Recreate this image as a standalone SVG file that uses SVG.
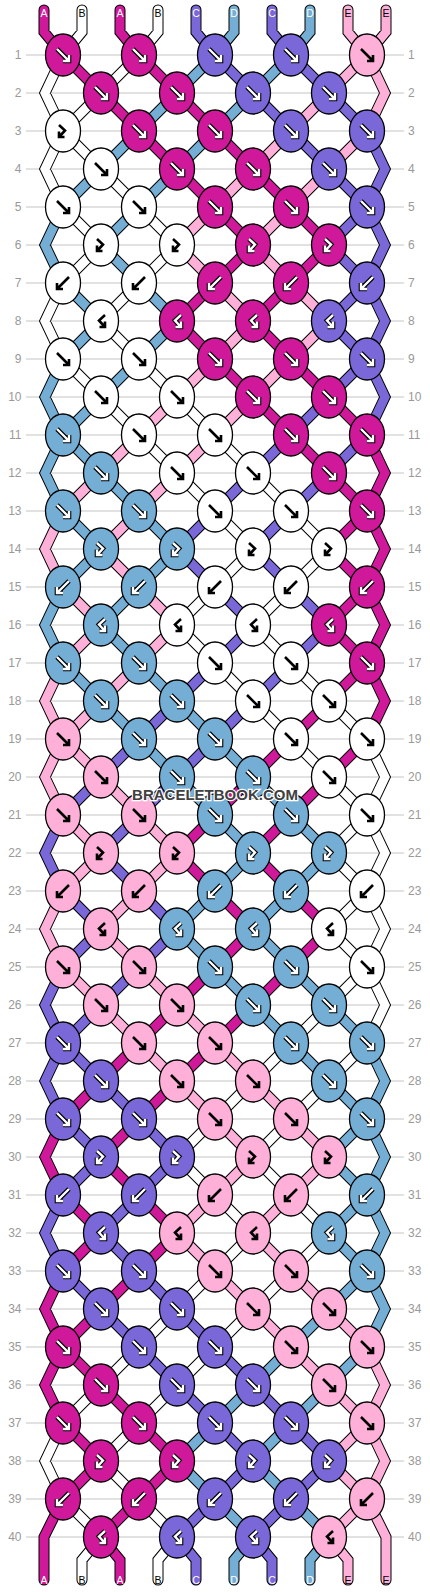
<svg xmlns="http://www.w3.org/2000/svg" xmlns:xlink="http://www.w3.org/1999/xlink" width="430" height="1592" viewBox="0 0 430 1592">
<style>
.grid{fill:none;stroke:#c4c4c4;stroke-width:1}
.ol{fill:none;stroke:#000;stroke-width:11;stroke-linecap:round;stroke-linejoin:miter}
.cM,.cW,.cP,.cL,.cK{fill:none;stroke-width:9;stroke-linecap:round;stroke-linejoin:miter}
.cM{stroke:#d0189a}.cW{stroke:#fff}.cP{stroke:#7a68d8}.cL{stroke:#74aed4}.cK{stroke:#ffb0d8}
.M{fill:#d0189a}.W{fill:#fff}.P{fill:#7a68d8}.L{fill:#74aed4}.K{fill:#ffb0d8}
.ao{fill:none;stroke:#000;stroke-width:4.6;stroke-linejoin:miter}
.aw{fill:none;stroke:#fff;stroke-width:2.4;stroke-linejoin:miter}
.ab{fill:none;stroke:#000;stroke-width:2.6;stroke-linejoin:miter}
.rn{font-family:"Liberation Sans",Arial,sans-serif;font-size:12px;fill:#999}
.sl{font-family:"Liberation Sans",Arial,sans-serif;font-size:10.5px;text-anchor:middle}
.wm{font-family:"Liberation Sans",Arial,sans-serif;font-size:15px;font-weight:bold;fill:#404040;stroke:#fff;stroke-width:2.5;paint-order:stroke;text-anchor:middle}
</style>
<defs>
<ellipse id="e" rx="17.5" ry="21" stroke="#000" stroke-width="1.3"/>
<path id="af" d="M-6,-6L5.5,5.5M0,6H6V0"/>
<path id="ab" d="M6,-6L-5.5,5.5M0,6H-6V0"/>
<path id="ag" d="M-4,-6L2,-0.5L-3.5,5.5M-4,0.5V6H1.5"/>
<path id="ah" d="M4,-6L-2,-0.5L3.5,5.5M4,0.5V6H-1.5"/>
<g id="fD"><use href="#af" class="ao"/><use href="#af" class="aw"/></g>
<g id="bD"><use href="#ab" class="ao"/><use href="#ab" class="aw"/></g>
<g id="gD"><use href="#ag" class="ao"/><use href="#ag" class="aw"/></g>
<g id="hD"><use href="#ah" class="ao"/><use href="#ah" class="aw"/></g>
<use id="fL" href="#af" class="ab"/>
<use id="bL" href="#ab" class="ab"/>
<use id="gL" href="#ag" class="ab"/>
<use id="hL" href="#ah" class="ab"/>
<path id="pM" d="M44,10V32L63,55M120,10V32L139,55M63,55l38,38M139,55l38,38M101,93l38,38M177,93l38,38M139,131l38,38M215,131l38,38M177,169l38,38M253,169l38,38M215,207l38,38M291,207l38,38M253,245l-38,38M329,245l-38,38M215,283l-38,38M291,283l-38,38M177,321l38,38M253,321l38,38M215,359l38,38M291,359l38,38M253,397l38,38M329,397l38,38M291,435l38,38M367,435l18,38l-18,38M329,473l38,38M367,511l-38,38M367,511l18,38l-18,38M329,549l38,38M367,587l-38,38M367,587l18,38l-18,38M329,625l38,38M367,663l-38,38M367,663l18,38l-18,38M329,701l-38,38M291,739l-38,38M367,739l-38,38M253,777l-38,38M329,777l-38,38M215,815l-38,38M291,815l-38,38M177,853l38,38M253,853l38,38M215,891l38,38M291,891l38,38M253,929l-38,38M329,929l-38,38M215,967l-38,38M291,967l-38,38M177,1005l-38,38M253,1005l-38,38M139,1043l-38,38M215,1043l-38,38M101,1081l-38,38M177,1081l-38,38M63,1119l-18,38l18,38M139,1119l-38,38M101,1157l38,38M63,1195l38,38M139,1195l38,38M101,1233l-38,38M177,1233l-38,38M63,1271l-18,38l18,38M139,1271l-38,38M101,1309l-38,38M63,1347l-18,38l18,38M63,1347l38,38M101,1385l38,38M63,1423l38,38M139,1423l38,38M101,1461l-38,38M177,1461l-38,38M63,1499L44,1537V1580M139,1499l-38,38M101,1537L120,1560V1580"/>
<path id="pW" d="M82,10V32L63,55M158,10V32L139,55M63,55l-18,38l18,38M139,55l-38,38M101,93l-38,38M63,131l-18,38l18,38M63,131l38,38M101,169l38,38M63,207l38,38M139,207l38,38M101,245l-38,38M177,245l-38,38M63,283l-18,38l18,38M139,283l-38,38M101,321l38,38M63,359l38,38M139,359l38,38M101,397l38,38M177,397l38,38M139,435l38,38M215,435l38,38M177,473l38,38M253,473l38,38M215,511l38,38M291,511l38,38M253,549l-38,38M329,549l-38,38M215,587l-38,38M291,587l-38,38M177,625l38,38M253,625l38,38M215,663l38,38M291,663l38,38M253,701l38,38M329,701l38,38M291,739l38,38M367,739l18,38l-18,38M329,777l38,38M367,815l-38,38M367,815l18,38l-18,38M329,853l38,38M367,891l-38,38M367,891l18,38l-18,38M329,929l38,38M367,967l-38,38M367,967l18,38l-18,38M329,1005l-38,38M291,1043l-38,38M367,1043l-38,38M253,1081l-38,38M329,1081l-38,38M215,1119l-38,38M291,1119l-38,38M177,1157l38,38M253,1157l38,38M215,1195l38,38M291,1195l38,38M253,1233l-38,38M329,1233l-38,38M215,1271l-38,38M291,1271l-38,38M177,1309l-38,38M253,1309l-38,38M139,1347l-38,38M215,1347l-38,38M101,1385l-38,38M177,1385l-38,38M63,1423l-18,38l18,38M139,1423l-38,38M101,1461l38,38M63,1499l38,38M139,1499l38,38M101,1537L82,1560V1580M177,1537L158,1560V1580"/>
<path id="pP" d="M196,10V32L215,55M272,10V32L291,55M215,55l38,38M291,55l38,38M253,93l38,38M329,93l38,38M291,131l38,38M367,131l18,38l-18,38M329,169l38,38M367,207l-38,38M367,207l18,38l-18,38M329,245l38,38M367,283l-38,38M367,283l18,38l-18,38M329,321l38,38M367,359l-38,38M367,359l18,38l-18,38M329,397l-38,38M291,435l-38,38M367,435l-38,38M253,473l-38,38M329,473l-38,38M215,511l-38,38M291,511l-38,38M177,549l38,38M253,549l38,38M215,587l38,38M291,587l38,38M253,625l-38,38M329,625l-38,38M215,663l-38,38M291,663l-38,38M177,701l-38,38M253,701l-38,38M139,739l-38,38M215,739l-38,38M101,777l-38,38M177,777l-38,38M63,815l-18,38l18,38M139,815l-38,38M101,853l38,38M63,891l38,38M139,891l38,38M101,929l-38,38M177,929l-38,38M63,967l-18,38l18,38M139,967l-38,38M101,1005l-38,38M63,1043l-18,38l18,38M63,1043l38,38M101,1081l38,38M63,1119l38,38M139,1119l38,38M101,1157l-38,38M177,1157l-38,38M63,1195l-18,38l18,38M139,1195l-38,38M101,1233l38,38M63,1271l38,38M139,1271l38,38M101,1309l38,38M177,1309l38,38M139,1347l38,38M215,1347l38,38M177,1385l38,38M253,1385l38,38M215,1423l38,38M291,1423l38,38M253,1461l-38,38M329,1461l-38,38M215,1499l-38,38M291,1499l-38,38M177,1537L196,1560V1580M253,1537L272,1560V1580"/>
<path id="pL" d="M234,10V32L215,55M310,10V32L291,55M215,55l-38,38M291,55l-38,38M177,93l-38,38M253,93l-38,38M139,131l-38,38M215,131l-38,38M101,169l-38,38M177,169l-38,38M63,207l-18,38l18,38M139,207l-38,38M101,245l38,38M63,283l38,38M139,283l38,38M101,321l-38,38M177,321l-38,38M63,359l-18,38l18,38M139,359l-38,38M101,397l-38,38M63,435l-18,38l18,38M63,435l38,38M101,473l38,38M63,511l38,38M139,511l38,38M101,549l-38,38M177,549l-38,38M63,587l-18,38l18,38M139,587l-38,38M101,625l38,38M63,663l38,38M139,663l38,38M101,701l38,38M177,701l38,38M139,739l38,38M215,739l38,38M177,777l38,38M253,777l38,38M215,815l38,38M291,815l38,38M253,853l-38,38M329,853l-38,38M215,891l-38,38M291,891l-38,38M177,929l38,38M253,929l38,38M215,967l38,38M291,967l38,38M253,1005l38,38M329,1005l38,38M291,1043l38,38M367,1043l18,38l-18,38M329,1081l38,38M367,1119l-38,38M367,1119l18,38l-18,38M329,1157l38,38M367,1195l-38,38M367,1195l18,38l-18,38M329,1233l38,38M367,1271l-38,38M367,1271l18,38l-18,38M329,1309l-38,38M291,1347l-38,38M367,1347l-38,38M253,1385l-38,38M329,1385l-38,38M215,1423l-38,38M291,1423l-38,38M177,1461l38,38M253,1461l38,38M215,1499l38,38M291,1499l38,38M253,1537L234,1560V1580M329,1537L310,1560V1580"/>
<path id="pK" d="M348,10V32L367,55M386,10V32L367,55M367,55l-38,38M367,55l18,38l-18,38M329,93l-38,38M291,131l-38,38M367,131l-38,38M253,169l-38,38M329,169l-38,38M215,207l-38,38M291,207l-38,38M177,245l38,38M253,245l38,38M215,283l38,38M291,283l38,38M253,321l-38,38M329,321l-38,38M215,359l-38,38M291,359l-38,38M177,397l-38,38M253,397l-38,38M139,435l-38,38M215,435l-38,38M101,473l-38,38M177,473l-38,38M63,511l-18,38l18,38M139,511l-38,38M101,549l38,38M63,587l38,38M139,587l38,38M101,625l-38,38M177,625l-38,38M63,663l-18,38l18,38M139,663l-38,38M101,701l-38,38M63,739l-18,38l18,38M63,739l38,38M101,777l38,38M63,815l38,38M139,815l38,38M101,853l-38,38M177,853l-38,38M63,891l-18,38l18,38M139,891l-38,38M101,929l38,38M63,967l38,38M139,967l38,38M101,1005l38,38M177,1005l38,38M139,1043l38,38M215,1043l38,38M177,1081l38,38M253,1081l38,38M215,1119l38,38M291,1119l38,38M253,1157l-38,38M329,1157l-38,38M215,1195l-38,38M291,1195l-38,38M177,1233l38,38M253,1233l38,38M215,1271l38,38M291,1271l38,38M253,1309l38,38M329,1309l38,38M291,1347l38,38M367,1347l18,38l-18,38M329,1385l38,38M367,1423l-38,38M367,1423l18,38l-18,38M329,1461l38,38M367,1499l-38,38M367,1499L386,1537V1580M329,1537L348,1560V1580"/>
</defs>
<rect width="430" height="1592" fill="#fff"/>
<path class="grid" d="M26,55H404M26,93H404M26,131H404M26,169H404M26,207H404M26,245H404M26,283H404M26,321H404M26,359H404M26,397H404M26,435H404M26,473H404M26,511H404M26,549H404M26,587H404M26,625H404M26,663H404M26,701H404M26,739H404M26,777H404M26,815H404M26,853H404M26,891H404M26,929H404M26,967H404M26,1005H404M26,1043H404M26,1081H404M26,1119H404M26,1157H404M26,1195H404M26,1233H404M26,1271H404M26,1309H404M26,1347H404M26,1385H404M26,1423H404M26,1461H404M26,1499H404M26,1537H404"/>
<g id="rowlabels" class="rn">
<g text-anchor="end">
<text x="21.5" y="59">1</text><text x="21.5" y="97">2</text><text x="21.5" y="135">3</text><text x="21.5" y="173">4</text><text x="21.5" y="211">5</text><text x="21.5" y="249">6</text><text x="21.5" y="287">7</text><text x="21.5" y="325">8</text><text x="21.5" y="363">9</text><text x="21.5" y="401">10</text><text x="21.5" y="439">11</text><text x="21.5" y="477">12</text><text x="21.5" y="515">13</text><text x="21.5" y="553">14</text><text x="21.5" y="591">15</text><text x="21.5" y="629">16</text><text x="21.5" y="667">17</text><text x="21.5" y="705">18</text><text x="21.5" y="743">19</text><text x="21.5" y="781">20</text><text x="21.5" y="819">21</text><text x="21.5" y="857">22</text><text x="21.5" y="895">23</text><text x="21.5" y="933">24</text><text x="21.5" y="971">25</text><text x="21.5" y="1009">26</text><text x="21.5" y="1047">27</text><text x="21.5" y="1085">28</text><text x="21.5" y="1123">29</text><text x="21.5" y="1161">30</text><text x="21.5" y="1199">31</text><text x="21.5" y="1237">32</text><text x="21.5" y="1275">33</text><text x="21.5" y="1313">34</text><text x="21.5" y="1351">35</text><text x="21.5" y="1389">36</text><text x="21.5" y="1427">37</text><text x="21.5" y="1465">38</text><text x="21.5" y="1503">39</text><text x="21.5" y="1541">40</text>
</g>
<g>
<text x="408" y="59">1</text><text x="408" y="97">2</text><text x="408" y="135">3</text><text x="408" y="173">4</text><text x="408" y="211">5</text><text x="408" y="249">6</text><text x="408" y="287">7</text><text x="408" y="325">8</text><text x="408" y="363">9</text><text x="408" y="401">10</text><text x="408" y="439">11</text><text x="408" y="477">12</text><text x="408" y="515">13</text><text x="408" y="553">14</text><text x="408" y="591">15</text><text x="408" y="629">16</text><text x="408" y="667">17</text><text x="408" y="705">18</text><text x="408" y="743">19</text><text x="408" y="781">20</text><text x="408" y="819">21</text><text x="408" y="857">22</text><text x="408" y="895">23</text><text x="408" y="933">24</text><text x="408" y="971">25</text><text x="408" y="1009">26</text><text x="408" y="1047">27</text><text x="408" y="1085">28</text><text x="408" y="1123">29</text><text x="408" y="1161">30</text><text x="408" y="1199">31</text><text x="408" y="1237">32</text><text x="408" y="1275">33</text><text x="408" y="1313">34</text><text x="408" y="1351">35</text><text x="408" y="1389">36</text><text x="408" y="1427">37</text><text x="408" y="1465">38</text><text x="408" y="1503">39</text><text x="408" y="1541">40</text>
</g>
</g>
<g id="connectors">
<use href="#pM" class="ol"/><use href="#pW" class="ol"/><use href="#pP" class="ol"/><use href="#pL" class="ol"/><use href="#pK" class="ol"/>
<use href="#pM" class="cM"/><use href="#pW" class="cW"/><use href="#pP" class="cP"/><use href="#pL" class="cL"/><use href="#pK" class="cK"/>
</g>
<g id="stringlabels" class="sl">
<text x="44" y="17" fill="#fff">A</text><text x="82" y="17" fill="#000">B</text><text x="120" y="17" fill="#fff">A</text><text x="158" y="17" fill="#000">B</text><text x="196" y="17" fill="#fff">C</text><text x="234" y="17" fill="#fff">D</text><text x="272" y="17" fill="#fff">C</text><text x="310" y="17" fill="#fff">D</text><text x="348" y="17" fill="#000">E</text><text x="386" y="17" fill="#000">E</text>
<text x="44" y="1584" fill="#fff">A</text><text x="82" y="1584" fill="#000">B</text><text x="120" y="1584" fill="#fff">A</text><text x="158" y="1584" fill="#000">B</text><text x="196" y="1584" fill="#fff">C</text><text x="234" y="1584" fill="#fff">D</text><text x="272" y="1584" fill="#fff">C</text><text x="310" y="1584" fill="#fff">D</text><text x="348" y="1584" fill="#000">E</text><text x="386" y="1584" fill="#000">E</text>
</g>
<g id="knots">
<g id="k1-1" transform="translate(63,55)"><use href="#e" class="M"/><use href="#fD"/></g>
<g id="k1-2" transform="translate(139,55)"><use href="#e" class="M"/><use href="#fD"/></g>
<g id="k1-3" transform="translate(215,55)"><use href="#e" class="P"/><use href="#fD"/></g>
<g id="k1-4" transform="translate(291,55)"><use href="#e" class="P"/><use href="#fD"/></g>
<g id="k1-5" transform="translate(367,55)"><use href="#e" class="K"/><use href="#fL"/></g>
<g id="k2-1" transform="translate(101,93)"><use href="#e" class="M"/><use href="#fD"/></g>
<g id="k2-2" transform="translate(177,93)"><use href="#e" class="M"/><use href="#fD"/></g>
<g id="k2-3" transform="translate(253,93)"><use href="#e" class="P"/><use href="#fD"/></g>
<g id="k2-4" transform="translate(329,93)"><use href="#e" class="P"/><use href="#fD"/></g>
<g id="k3-1" transform="translate(63,131)"><use href="#e" class="W"/><use href="#gL"/></g>
<g id="k3-2" transform="translate(139,131)"><use href="#e" class="M"/><use href="#fD"/></g>
<g id="k3-3" transform="translate(215,131)"><use href="#e" class="M"/><use href="#fD"/></g>
<g id="k3-4" transform="translate(291,131)"><use href="#e" class="P"/><use href="#fD"/></g>
<g id="k3-5" transform="translate(367,131)"><use href="#e" class="P"/><use href="#fD"/></g>
<g id="k4-1" transform="translate(101,169)"><use href="#e" class="W"/><use href="#fL"/></g>
<g id="k4-2" transform="translate(177,169)"><use href="#e" class="M"/><use href="#fD"/></g>
<g id="k4-3" transform="translate(253,169)"><use href="#e" class="M"/><use href="#fD"/></g>
<g id="k4-4" transform="translate(329,169)"><use href="#e" class="P"/><use href="#fD"/></g>
<g id="k5-1" transform="translate(63,207)"><use href="#e" class="W"/><use href="#fL"/></g>
<g id="k5-2" transform="translate(139,207)"><use href="#e" class="W"/><use href="#fL"/></g>
<g id="k5-3" transform="translate(215,207)"><use href="#e" class="M"/><use href="#fD"/></g>
<g id="k5-4" transform="translate(291,207)"><use href="#e" class="M"/><use href="#fD"/></g>
<g id="k5-5" transform="translate(367,207)"><use href="#e" class="P"/><use href="#fD"/></g>
<g id="k6-1" transform="translate(101,245)"><use href="#e" class="W"/><use href="#gL"/></g>
<g id="k6-2" transform="translate(177,245)"><use href="#e" class="W"/><use href="#gL"/></g>
<g id="k6-3" transform="translate(253,245)"><use href="#e" class="M"/><use href="#gD"/></g>
<g id="k6-4" transform="translate(329,245)"><use href="#e" class="M"/><use href="#gD"/></g>
<g id="k7-1" transform="translate(63,283)"><use href="#e" class="W"/><use href="#bL"/></g>
<g id="k7-2" transform="translate(139,283)"><use href="#e" class="W"/><use href="#bL"/></g>
<g id="k7-3" transform="translate(215,283)"><use href="#e" class="M"/><use href="#bD"/></g>
<g id="k7-4" transform="translate(291,283)"><use href="#e" class="M"/><use href="#bD"/></g>
<g id="k7-5" transform="translate(367,283)"><use href="#e" class="P"/><use href="#bD"/></g>
<g id="k8-1" transform="translate(101,321)"><use href="#e" class="W"/><use href="#hL"/></g>
<g id="k8-2" transform="translate(177,321)"><use href="#e" class="M"/><use href="#hD"/></g>
<g id="k8-3" transform="translate(253,321)"><use href="#e" class="M"/><use href="#hD"/></g>
<g id="k8-4" transform="translate(329,321)"><use href="#e" class="P"/><use href="#hD"/></g>
<g id="k9-1" transform="translate(63,359)"><use href="#e" class="W"/><use href="#fL"/></g>
<g id="k9-2" transform="translate(139,359)"><use href="#e" class="W"/><use href="#fL"/></g>
<g id="k9-3" transform="translate(215,359)"><use href="#e" class="M"/><use href="#fD"/></g>
<g id="k9-4" transform="translate(291,359)"><use href="#e" class="M"/><use href="#fD"/></g>
<g id="k9-5" transform="translate(367,359)"><use href="#e" class="P"/><use href="#fD"/></g>
<g id="k10-1" transform="translate(101,397)"><use href="#e" class="W"/><use href="#fL"/></g>
<g id="k10-2" transform="translate(177,397)"><use href="#e" class="W"/><use href="#fL"/></g>
<g id="k10-3" transform="translate(253,397)"><use href="#e" class="M"/><use href="#fD"/></g>
<g id="k10-4" transform="translate(329,397)"><use href="#e" class="M"/><use href="#fD"/></g>
<g id="k11-1" transform="translate(63,435)"><use href="#e" class="L"/><use href="#fD"/></g>
<g id="k11-2" transform="translate(139,435)"><use href="#e" class="W"/><use href="#fL"/></g>
<g id="k11-3" transform="translate(215,435)"><use href="#e" class="W"/><use href="#fL"/></g>
<g id="k11-4" transform="translate(291,435)"><use href="#e" class="M"/><use href="#fD"/></g>
<g id="k11-5" transform="translate(367,435)"><use href="#e" class="M"/><use href="#fD"/></g>
<g id="k12-1" transform="translate(101,473)"><use href="#e" class="L"/><use href="#fD"/></g>
<g id="k12-2" transform="translate(177,473)"><use href="#e" class="W"/><use href="#fL"/></g>
<g id="k12-3" transform="translate(253,473)"><use href="#e" class="W"/><use href="#fL"/></g>
<g id="k12-4" transform="translate(329,473)"><use href="#e" class="M"/><use href="#fD"/></g>
<g id="k13-1" transform="translate(63,511)"><use href="#e" class="L"/><use href="#fD"/></g>
<g id="k13-2" transform="translate(139,511)"><use href="#e" class="L"/><use href="#fD"/></g>
<g id="k13-3" transform="translate(215,511)"><use href="#e" class="W"/><use href="#fL"/></g>
<g id="k13-4" transform="translate(291,511)"><use href="#e" class="W"/><use href="#fL"/></g>
<g id="k13-5" transform="translate(367,511)"><use href="#e" class="M"/><use href="#fD"/></g>
<g id="k14-1" transform="translate(101,549)"><use href="#e" class="L"/><use href="#gD"/></g>
<g id="k14-2" transform="translate(177,549)"><use href="#e" class="L"/><use href="#gD"/></g>
<g id="k14-3" transform="translate(253,549)"><use href="#e" class="W"/><use href="#gL"/></g>
<g id="k14-4" transform="translate(329,549)"><use href="#e" class="W"/><use href="#gL"/></g>
<g id="k15-1" transform="translate(63,587)"><use href="#e" class="L"/><use href="#bD"/></g>
<g id="k15-2" transform="translate(139,587)"><use href="#e" class="L"/><use href="#bD"/></g>
<g id="k15-3" transform="translate(215,587)"><use href="#e" class="W"/><use href="#bL"/></g>
<g id="k15-4" transform="translate(291,587)"><use href="#e" class="W"/><use href="#bL"/></g>
<g id="k15-5" transform="translate(367,587)"><use href="#e" class="M"/><use href="#bD"/></g>
<g id="k16-1" transform="translate(101,625)"><use href="#e" class="L"/><use href="#hD"/></g>
<g id="k16-2" transform="translate(177,625)"><use href="#e" class="W"/><use href="#hL"/></g>
<g id="k16-3" transform="translate(253,625)"><use href="#e" class="W"/><use href="#hL"/></g>
<g id="k16-4" transform="translate(329,625)"><use href="#e" class="M"/><use href="#hD"/></g>
<g id="k17-1" transform="translate(63,663)"><use href="#e" class="L"/><use href="#fD"/></g>
<g id="k17-2" transform="translate(139,663)"><use href="#e" class="L"/><use href="#fD"/></g>
<g id="k17-3" transform="translate(215,663)"><use href="#e" class="W"/><use href="#fL"/></g>
<g id="k17-4" transform="translate(291,663)"><use href="#e" class="W"/><use href="#fL"/></g>
<g id="k17-5" transform="translate(367,663)"><use href="#e" class="M"/><use href="#fD"/></g>
<g id="k18-1" transform="translate(101,701)"><use href="#e" class="L"/><use href="#fD"/></g>
<g id="k18-2" transform="translate(177,701)"><use href="#e" class="L"/><use href="#fD"/></g>
<g id="k18-3" transform="translate(253,701)"><use href="#e" class="W"/><use href="#fL"/></g>
<g id="k18-4" transform="translate(329,701)"><use href="#e" class="W"/><use href="#fL"/></g>
<g id="k19-1" transform="translate(63,739)"><use href="#e" class="K"/><use href="#fL"/></g>
<g id="k19-2" transform="translate(139,739)"><use href="#e" class="L"/><use href="#fD"/></g>
<g id="k19-3" transform="translate(215,739)"><use href="#e" class="L"/><use href="#fD"/></g>
<g id="k19-4" transform="translate(291,739)"><use href="#e" class="W"/><use href="#fL"/></g>
<g id="k19-5" transform="translate(367,739)"><use href="#e" class="W"/><use href="#fL"/></g>
<g id="k20-1" transform="translate(101,777)"><use href="#e" class="K"/><use href="#fL"/></g>
<g id="k20-2" transform="translate(177,777)"><use href="#e" class="L"/><use href="#fD"/></g>
<g id="k20-3" transform="translate(253,777)"><use href="#e" class="L"/><use href="#fD"/></g>
<g id="k20-4" transform="translate(329,777)"><use href="#e" class="W"/><use href="#fL"/></g>
<g id="k21-1" transform="translate(63,815)"><use href="#e" class="K"/><use href="#fL"/></g>
<g id="k21-2" transform="translate(139,815)"><use href="#e" class="K"/><use href="#fL"/></g>
<g id="k21-3" transform="translate(215,815)"><use href="#e" class="L"/><use href="#fD"/></g>
<g id="k21-4" transform="translate(291,815)"><use href="#e" class="L"/><use href="#fD"/></g>
<g id="k21-5" transform="translate(367,815)"><use href="#e" class="W"/><use href="#fL"/></g>
<g id="k22-1" transform="translate(101,853)"><use href="#e" class="K"/><use href="#gL"/></g>
<g id="k22-2" transform="translate(177,853)"><use href="#e" class="K"/><use href="#gL"/></g>
<g id="k22-3" transform="translate(253,853)"><use href="#e" class="L"/><use href="#gD"/></g>
<g id="k22-4" transform="translate(329,853)"><use href="#e" class="L"/><use href="#gD"/></g>
<g id="k23-1" transform="translate(63,891)"><use href="#e" class="K"/><use href="#bL"/></g>
<g id="k23-2" transform="translate(139,891)"><use href="#e" class="K"/><use href="#bL"/></g>
<g id="k23-3" transform="translate(215,891)"><use href="#e" class="L"/><use href="#bD"/></g>
<g id="k23-4" transform="translate(291,891)"><use href="#e" class="L"/><use href="#bD"/></g>
<g id="k23-5" transform="translate(367,891)"><use href="#e" class="W"/><use href="#bL"/></g>
<g id="k24-1" transform="translate(101,929)"><use href="#e" class="K"/><use href="#hL"/></g>
<g id="k24-2" transform="translate(177,929)"><use href="#e" class="L"/><use href="#hD"/></g>
<g id="k24-3" transform="translate(253,929)"><use href="#e" class="L"/><use href="#hD"/></g>
<g id="k24-4" transform="translate(329,929)"><use href="#e" class="W"/><use href="#hL"/></g>
<g id="k25-1" transform="translate(63,967)"><use href="#e" class="K"/><use href="#fL"/></g>
<g id="k25-2" transform="translate(139,967)"><use href="#e" class="K"/><use href="#fL"/></g>
<g id="k25-3" transform="translate(215,967)"><use href="#e" class="L"/><use href="#fD"/></g>
<g id="k25-4" transform="translate(291,967)"><use href="#e" class="L"/><use href="#fD"/></g>
<g id="k25-5" transform="translate(367,967)"><use href="#e" class="W"/><use href="#fL"/></g>
<g id="k26-1" transform="translate(101,1005)"><use href="#e" class="K"/><use href="#fL"/></g>
<g id="k26-2" transform="translate(177,1005)"><use href="#e" class="K"/><use href="#fL"/></g>
<g id="k26-3" transform="translate(253,1005)"><use href="#e" class="L"/><use href="#fD"/></g>
<g id="k26-4" transform="translate(329,1005)"><use href="#e" class="L"/><use href="#fD"/></g>
<g id="k27-1" transform="translate(63,1043)"><use href="#e" class="P"/><use href="#fD"/></g>
<g id="k27-2" transform="translate(139,1043)"><use href="#e" class="K"/><use href="#fL"/></g>
<g id="k27-3" transform="translate(215,1043)"><use href="#e" class="K"/><use href="#fL"/></g>
<g id="k27-4" transform="translate(291,1043)"><use href="#e" class="L"/><use href="#fD"/></g>
<g id="k27-5" transform="translate(367,1043)"><use href="#e" class="L"/><use href="#fD"/></g>
<g id="k28-1" transform="translate(101,1081)"><use href="#e" class="P"/><use href="#fD"/></g>
<g id="k28-2" transform="translate(177,1081)"><use href="#e" class="K"/><use href="#fL"/></g>
<g id="k28-3" transform="translate(253,1081)"><use href="#e" class="K"/><use href="#fL"/></g>
<g id="k28-4" transform="translate(329,1081)"><use href="#e" class="L"/><use href="#fD"/></g>
<g id="k29-1" transform="translate(63,1119)"><use href="#e" class="P"/><use href="#fD"/></g>
<g id="k29-2" transform="translate(139,1119)"><use href="#e" class="P"/><use href="#fD"/></g>
<g id="k29-3" transform="translate(215,1119)"><use href="#e" class="K"/><use href="#fL"/></g>
<g id="k29-4" transform="translate(291,1119)"><use href="#e" class="K"/><use href="#fL"/></g>
<g id="k29-5" transform="translate(367,1119)"><use href="#e" class="L"/><use href="#fD"/></g>
<g id="k30-1" transform="translate(101,1157)"><use href="#e" class="P"/><use href="#gD"/></g>
<g id="k30-2" transform="translate(177,1157)"><use href="#e" class="P"/><use href="#gD"/></g>
<g id="k30-3" transform="translate(253,1157)"><use href="#e" class="K"/><use href="#gL"/></g>
<g id="k30-4" transform="translate(329,1157)"><use href="#e" class="K"/><use href="#gL"/></g>
<g id="k31-1" transform="translate(63,1195)"><use href="#e" class="P"/><use href="#bD"/></g>
<g id="k31-2" transform="translate(139,1195)"><use href="#e" class="P"/><use href="#bD"/></g>
<g id="k31-3" transform="translate(215,1195)"><use href="#e" class="K"/><use href="#bL"/></g>
<g id="k31-4" transform="translate(291,1195)"><use href="#e" class="K"/><use href="#bL"/></g>
<g id="k31-5" transform="translate(367,1195)"><use href="#e" class="L"/><use href="#bD"/></g>
<g id="k32-1" transform="translate(101,1233)"><use href="#e" class="P"/><use href="#hD"/></g>
<g id="k32-2" transform="translate(177,1233)"><use href="#e" class="K"/><use href="#hL"/></g>
<g id="k32-3" transform="translate(253,1233)"><use href="#e" class="K"/><use href="#hL"/></g>
<g id="k32-4" transform="translate(329,1233)"><use href="#e" class="L"/><use href="#hD"/></g>
<g id="k33-1" transform="translate(63,1271)"><use href="#e" class="P"/><use href="#fD"/></g>
<g id="k33-2" transform="translate(139,1271)"><use href="#e" class="P"/><use href="#fD"/></g>
<g id="k33-3" transform="translate(215,1271)"><use href="#e" class="K"/><use href="#fL"/></g>
<g id="k33-4" transform="translate(291,1271)"><use href="#e" class="K"/><use href="#fL"/></g>
<g id="k33-5" transform="translate(367,1271)"><use href="#e" class="L"/><use href="#fD"/></g>
<g id="k34-1" transform="translate(101,1309)"><use href="#e" class="P"/><use href="#fD"/></g>
<g id="k34-2" transform="translate(177,1309)"><use href="#e" class="P"/><use href="#fD"/></g>
<g id="k34-3" transform="translate(253,1309)"><use href="#e" class="K"/><use href="#fL"/></g>
<g id="k34-4" transform="translate(329,1309)"><use href="#e" class="K"/><use href="#fL"/></g>
<g id="k35-1" transform="translate(63,1347)"><use href="#e" class="M"/><use href="#fD"/></g>
<g id="k35-2" transform="translate(139,1347)"><use href="#e" class="P"/><use href="#fD"/></g>
<g id="k35-3" transform="translate(215,1347)"><use href="#e" class="P"/><use href="#fD"/></g>
<g id="k35-4" transform="translate(291,1347)"><use href="#e" class="K"/><use href="#fL"/></g>
<g id="k35-5" transform="translate(367,1347)"><use href="#e" class="K"/><use href="#fL"/></g>
<g id="k36-1" transform="translate(101,1385)"><use href="#e" class="M"/><use href="#fD"/></g>
<g id="k36-2" transform="translate(177,1385)"><use href="#e" class="P"/><use href="#fD"/></g>
<g id="k36-3" transform="translate(253,1385)"><use href="#e" class="P"/><use href="#fD"/></g>
<g id="k36-4" transform="translate(329,1385)"><use href="#e" class="K"/><use href="#fL"/></g>
<g id="k37-1" transform="translate(63,1423)"><use href="#e" class="M"/><use href="#fD"/></g>
<g id="k37-2" transform="translate(139,1423)"><use href="#e" class="M"/><use href="#fD"/></g>
<g id="k37-3" transform="translate(215,1423)"><use href="#e" class="P"/><use href="#fD"/></g>
<g id="k37-4" transform="translate(291,1423)"><use href="#e" class="P"/><use href="#fD"/></g>
<g id="k37-5" transform="translate(367,1423)"><use href="#e" class="K"/><use href="#fL"/></g>
<g id="k38-1" transform="translate(101,1461)"><use href="#e" class="M"/><use href="#gD"/></g>
<g id="k38-2" transform="translate(177,1461)"><use href="#e" class="M"/><use href="#gD"/></g>
<g id="k38-3" transform="translate(253,1461)"><use href="#e" class="P"/><use href="#gD"/></g>
<g id="k38-4" transform="translate(329,1461)"><use href="#e" class="P"/><use href="#gD"/></g>
<g id="k39-1" transform="translate(63,1499)"><use href="#e" class="M"/><use href="#bD"/></g>
<g id="k39-2" transform="translate(139,1499)"><use href="#e" class="M"/><use href="#bD"/></g>
<g id="k39-3" transform="translate(215,1499)"><use href="#e" class="P"/><use href="#bD"/></g>
<g id="k39-4" transform="translate(291,1499)"><use href="#e" class="P"/><use href="#bD"/></g>
<g id="k39-5" transform="translate(367,1499)"><use href="#e" class="K"/><use href="#bL"/></g>
<g id="k40-1" transform="translate(101,1537)"><use href="#e" class="M"/><use href="#hD"/></g>
<g id="k40-2" transform="translate(177,1537)"><use href="#e" class="P"/><use href="#hD"/></g>
<g id="k40-3" transform="translate(253,1537)"><use href="#e" class="P"/><use href="#hD"/></g>
<g id="k40-4" transform="translate(329,1537)"><use href="#e" class="K"/><use href="#hL"/></g>
</g>
<text id="watermark" class="wm" x="215" y="800">BRACELETBOOK.COM</text>
</svg>
